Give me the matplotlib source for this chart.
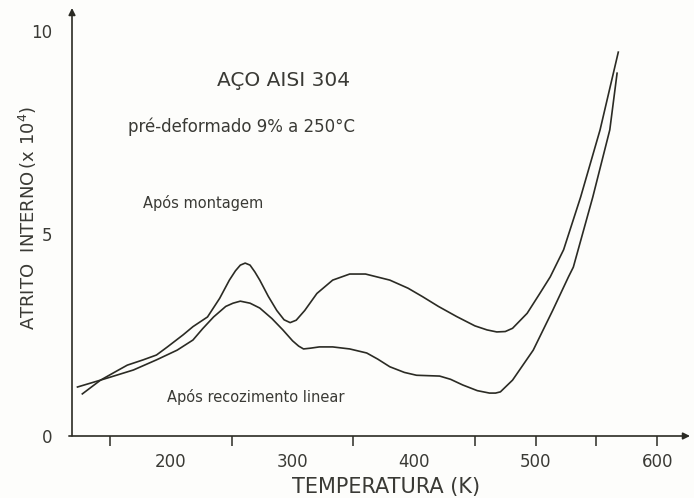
import numpy as np
import matplotlib
matplotlib.use("Agg")
import matplotlib.pyplot as plt

# curve: temperature (K) vs internal friction (x 10^4)
T_montagem = [127, 142, 155, 164, 177, 188, 197, 210, 218, 230, 240, 248, 253, 257, 261,
              265, 269, 273, 280, 287, 293, 298, 303, 310, 320, 333, 347, 360, 380, 395,
              407, 420, 435, 450, 460, 468, 475, 481, 493, 503, 512, 523, 537, 553, 568]
Q_montagem = [1.04, 1.38, 1.60, 1.75, 1.88, 2.00, 2.20, 2.50, 2.70, 2.94, 3.40, 3.85, 4.08, 4.22, 4.27,
              4.22, 4.05, 3.85, 3.45, 3.10, 2.87, 2.80, 2.86, 3.10, 3.52, 3.85, 4.00, 4.00, 3.85, 3.65,
              3.44, 3.20, 2.95, 2.72, 2.62, 2.57, 2.58, 2.66, 3.03, 3.50, 3.93, 4.60, 5.90, 7.56, 9.48]

T_recoz = [123, 142, 155, 169, 188, 205, 218, 226, 235, 245, 251, 257, 265, 273, 283,
           292, 300, 305, 309, 315, 322, 333, 347, 361, 370, 380, 392, 402, 421, 430, 440, 452,
           462, 467, 471, 481, 498, 514, 527, 531, 547, 561, 567]
Q_recoz = [1.21, 1.38, 1.50, 1.63, 1.88, 2.12, 2.37, 2.65, 2.94, 3.20, 3.28, 3.33, 3.28, 3.16, 2.90,
           2.62, 2.35, 2.22, 2.15, 2.17, 2.20, 2.20, 2.15, 2.05, 1.90, 1.71, 1.57, 1.50, 1.48, 1.40, 1.26, 1.12,
           1.06, 1.06, 1.09, 1.38, 2.12, 3.10, 3.93, 4.17, 5.90, 7.56, 8.96]

xticks = [200, 300, 400, 500, 600]
xminor = [150, 250, 350, 450, 500, 550, 600]
yticks = [0, 5, 10]

ink = "#2b2b24"
txt = "#3a3a35"

fig = plt.figure(figsize=(6.94, 4.98), dpi=100)
fig.patch.set_facecolor("#fdfdfb")
ax = fig.add_axes([72/694, 1-436/498, (690-72)/694, (436-8)/498])
ax.set_facecolor("none")

ax.plot(T_montagem, Q_montagem, color=ink, lw=1.2)
ax.plot(T_recoz, Q_recoz, color=ink, lw=1.2)

ax.set_xlim(118.5, 627)
ax.set_ylim(0, 10.57)

for s in ["top", "right", "left", "bottom"]:
    ax.spines[s].set_visible(False)
# axes drawn as arrows
ax.annotate("", xy=(0, 1), xytext=(0, 0), xycoords="axes fraction",
            arrowprops=dict(arrowstyle="-|>", lw=1.2, color=ink, mutation_scale=10,
                            shrinkA=0, shrinkB=0))
ax.annotate("", xy=(1, 0), xytext=(-0.005, 0), xycoords="axes fraction",
            arrowprops=dict(arrowstyle="-|>", lw=1.2, color=ink, mutation_scale=10,
                            shrinkA=0, shrinkB=0))

ax.set_xticks(xticks)
ax.set_xticklabels([str(t) for t in xticks], fontsize=12, color=txt)
ax.set_xticks(xminor, minor=True)
ax.xaxis.remove_overlapping_locs = False
ax.tick_params(axis="x", which="major", length=0, pad=12)
ax.tick_params(axis="x", which="minor", length=7, width=1.1, color=ink)
ax.set_yticks(yticks)
ax.set_yticklabels([str(t) for t in yticks], fontsize=12, color=txt)
ax.tick_params(axis="y", length=0, pad=14)

ax.text(238, 8.79, "AÇO AISI 304", fontsize=14.5, color=txt, va="center", ha="left")
ax.text(164.6, 7.63, "pré-deformado 9% a 250°C", fontsize=12, color=txt, va="center", ha="left")
ax.text(177, 5.75, "Após montagem", fontsize=10.5, color=txt, va="center", ha="left")
ax.text(196.7, 0.96, "Após recozimento linear", fontsize=10.5, color=txt, va="center", ha="left")

fig.text(386/694, 1-487/498, "TEMPERATURA (K)", fontsize=15, color=txt, ha="center", va="center")
fig.text(28/694, 1-218/498, r"ATRITO  INTERNO$\,$(x 10$^4$)", fontsize=13, color=txt,
         ha="center", va="center", rotation=90)

fig.savefig("out.png", dpi=100, facecolor=fig.get_facecolor())
